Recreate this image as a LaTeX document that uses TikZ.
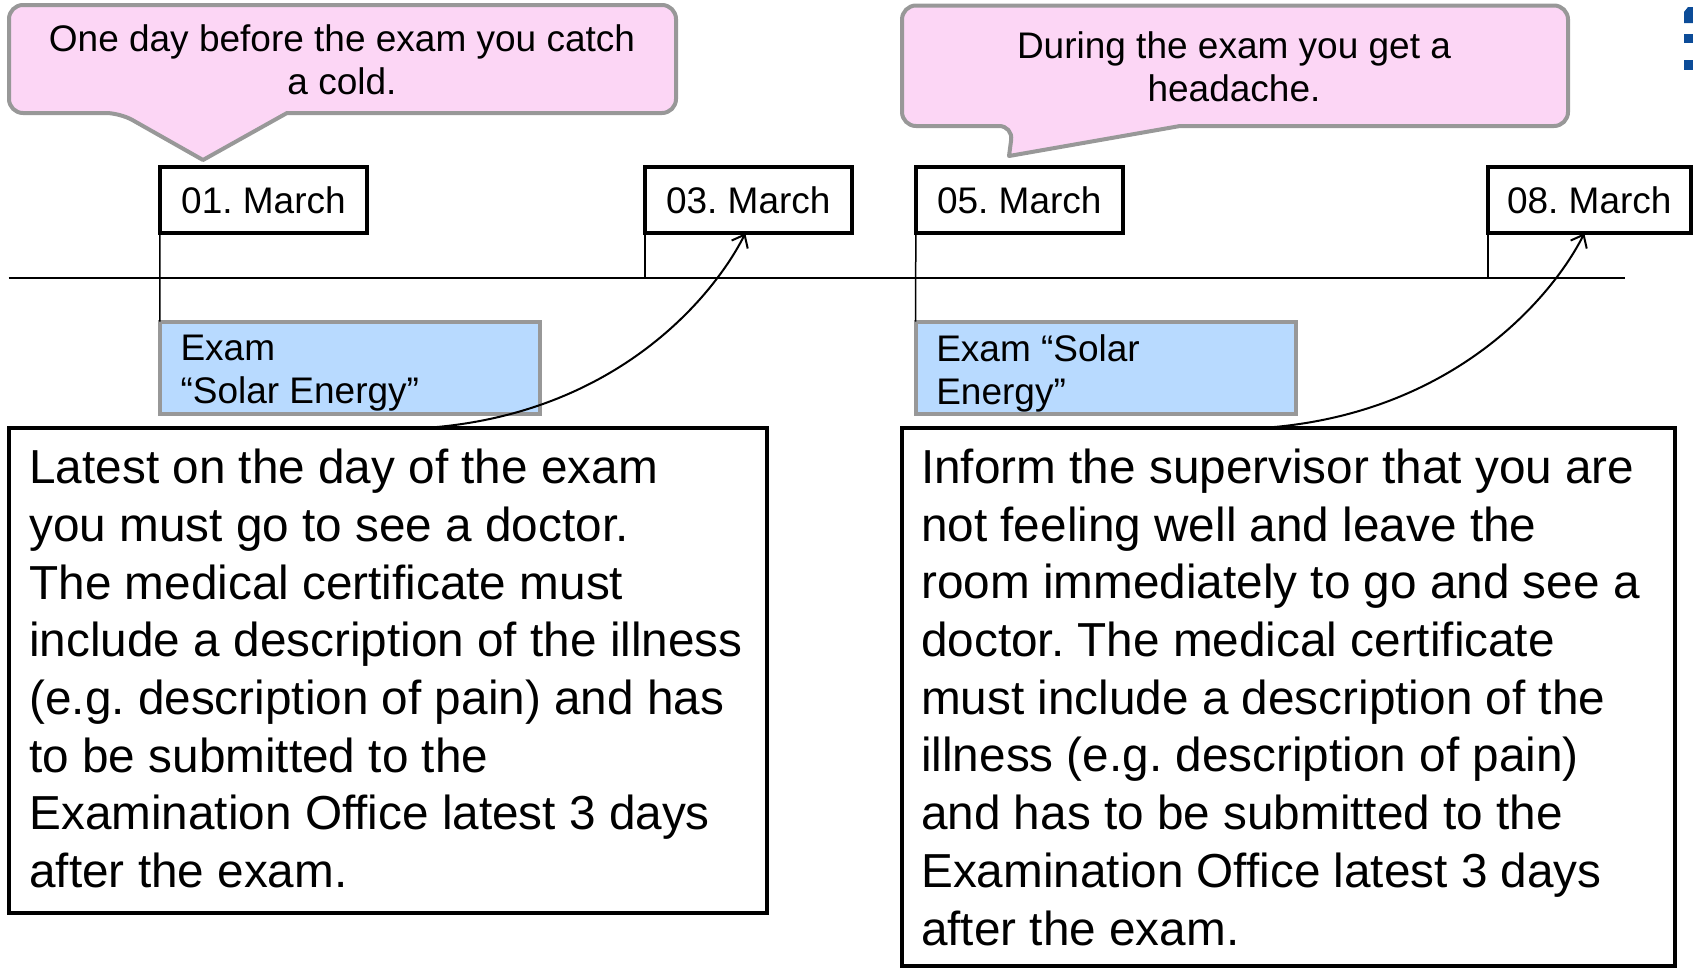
\documentclass[tikz,border=0pt]{standalone}
\usepackage{fontspec}
\setmainfont{Liberation Sans}
\usetikzlibrary{arrows.meta}
\definecolor{calloutpink}{RGB}{252,214,245}
\definecolor{bordergray}{RGB}{152,152,152}
\definecolor{examblue}{RGB}{184,218,255}
\definecolor{logoblue}{RGB}{12,76,152}
\newcommand\fsmall{\fontsize{37}{43.2}\selectfont}
\newcommand\fbig{\fontsize{47.7}{57.7}\selectfont}
\frenchspacing
\begin{document}
\frenchspacing
\begin{tikzpicture}[x=1pt,y=-1pt,
  callout/.style={fill=calloutpink, draw=bordergray, line width=4pt, line join=round},
  callouttext/.style={font=\fsmall\frenchspacing, align=center, inner sep=0pt},
  datebox/.style={draw=black, fill=white, line width=4pt, minimum height=66pt, font=\fsmall\frenchspacing, inner sep=0pt, outer sep=0pt},
  exambox/.style={draw=bordergray, fill=examblue, line width=4pt, inner sep=0pt, outer sep=0pt, minimum height=92pt, minimum width=380pt},
  examtext/.style={font=\fsmall\frenchspacing, align=left, inner sep=0pt},
  bigbox/.style={draw=black, line width=4pt, inner sep=0pt, outer sep=0pt},
  bigtext/.style={font=\fbig\frenchspacing, align=left, inner sep=0pt},
  tick/.style={line width=1.5pt},
  timeline/.style={line width=2pt},
  conn/.style={line width=2pt, -{Straight Barb[length=11pt,width=18pt,line width=2pt]}},
]
\useasboundingbox (0,0) rectangle (1693,970);

% callouts
\path[callout] (203,160) -- (287,113) [rounded corners=14pt] -- (676,113) -- (676,5) -- (9,5) -- (9,113) -- (120,113) [sharp corners] -- cycle;
\node[callouttext] (c1t) at (342,60) {One day before the exam you catch\\a cold.};
\path[callout] (1009,156) -- (1180,126) [rounded corners=14pt] -- (1568,126) -- (1568,5.5) -- (902,5.5) -- (902,126) -- (1013,126) [sharp corners] -- cycle;
\node[callouttext] (c2t) at (1234,67) {During the exam you get a\\headache.};

% timeline
\coordinate (tlL) at (8.6,277.5);
\coordinate (tlR) at (1625,277.5);
\draw[timeline] (tlL) -- (tlR);

% date boxes
\node[datebox, minimum width=207pt] (d01) at (263.5,200.3) {01. March};
\node[datebox, minimum width=207pt] (d03) at (748.3,200.3) {03. March};
\node[datebox, minimum width=207pt] (d05) at (1019.3,200.3) {05. March};
\node[datebox, minimum width=203pt] (d08) at (1589.3,200.3) {08. March};

% exam boxes
\node[exambox] (e1) at (349.8,367.6) {};
\node[examtext, anchor=west] (e1t) at (180.3,373.5) {Exam\\“Solar Energy”};
\node[exambox] (e2) at (1105.6,367.6) {};
\node[examtext, anchor=west] (e2t) at (936.1,373.5) {Exam “Solar\\Energy”};

% ticks
\draw[tick] (d01.south west) -- (e1.north west);
\draw[tick] (d03.south west) -- (d03.south west |- tlL);
\draw[tick] (d05.south west) -- (e2.north west);
\draw[tick] (d08.south west) -- (d08.south west |- tlL);

% big boxes
\node[bigbox, minimum width=758pt, minimum height=485.8pt, anchor=north west] (b1) at (8.6,427.6) {};
\node[bigtext, anchor=west] (t1) at (29.2,668.5) {Latest on the day of the exam\\you must go to see a doctor.\\The medical certificate must\\include a description of the illness\\(e.g. description of pain) and has\\to be submitted to the\\Examination Office latest 3 days\\after the exam.};
\node[bigbox, minimum width=773pt, minimum height=538.5pt, anchor=north west] (b2) at (901.5,427.6) {};
\node[bigtext, anchor=west] (t2) at (921,697.2) {Inform the supervisor that you are\\not feeling well and leave the\\room immediately to go and see a\\doctor. The medical certificate\\must include a description of the\\illness (e.g. description of pain)\\and has to be submitted to the\\Examination Office latest 3 days\\after the exam.};

% connectors
\draw[conn] ([xshift=421.4pt]b1.north west) .. controls +(190,-15) and +(-30,60) .. ([xshift=-3pt]d03.south);
\draw[conn] ([xshift=366pt]b2.north west) .. controls +(190,-15) and +(-30,60) .. ([xshift=-5pt]d08.south);

% partial logo at the right edge
\fill[logoblue] (1684,12) -- (1688,7) -- (1693,7) -- (1693,23) -- (1684,23) -- cycle;
\fill[logoblue] (1684,34) rectangle (1693,43);
\fill[logoblue] (1684,60) rectangle (1693,70);
\end{tikzpicture}
\end{document}
